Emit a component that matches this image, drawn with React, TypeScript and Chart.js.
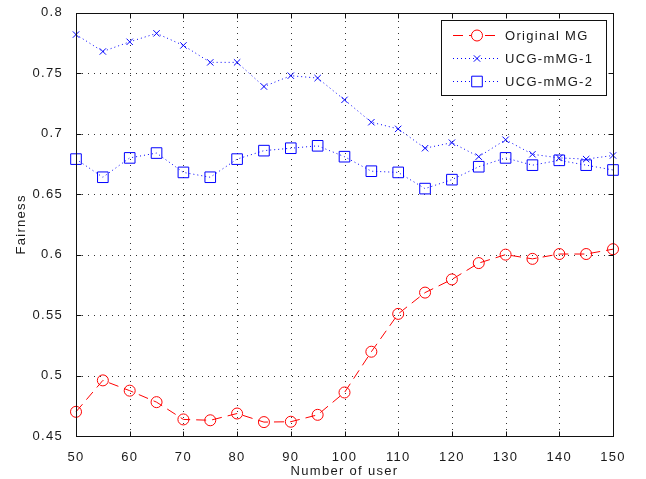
import React, { useEffect, useRef } from 'react';
import { Chart, registerables } from 'chart.js';

Chart.register(...registerables);

// ---- data ----
const xValues = [50, 55, 60, 65, 70, 75, 80, 85, 90, 95, 100, 105, 110, 115, 120, 125, 130, 135, 140, 145, 150];
const originalMG = [0.470, 0.496, 0.4875, 0.478, 0.4637, 0.463, 0.4686, 0.4615, 0.4618, 0.4675, 0.486, 0.5197, 0.551, 0.5686, 0.5795, 0.593, 0.600, 0.5965, 0.6005, 0.6005, 0.6045];
const ucgMMG1 = [0.782, 0.768, 0.776, 0.783, 0.773, 0.759, 0.759, 0.739, 0.748, 0.746, 0.728, 0.7095, 0.704, 0.688, 0.6926, 0.681, 0.695, 0.683, 0.680, 0.679, 0.682];
const ucgMMG2 = [0.679, 0.664, 0.680, 0.684, 0.668, 0.664, 0.679, 0.686, 0.688, 0.690, 0.681, 0.669, 0.668, 0.6546, 0.662, 0.6727, 0.680, 0.674, 0.678, 0.674, 0.670];
const seriesLabels = ['Original MG', 'UCG-mMG-1', 'UCG-mMG-2'];

const xTicks = [50, 60, 70, 80, 90, 100, 110, 120, 130, 140, 150];
const xTickLabels = ['50', '60', '70', '80', '90', '100', '110', '120', '130', '140', '150'];
const yTicks = [0.45, 0.5, 0.55, 0.6, 0.65, 0.7, 0.75, 0.8];
const yTickLabels = ['0.45', '0.5', '0.55', '0.6', '0.65', '0.7', '0.75', '0.8'];
const xTitle = 'Number of user';
const yTitle = 'Fairness';

const FONT = '"Liberation Sans", Arial, sans-serif';
const TEXT = '#1a1a1a';
const RED = '#ff0000';
const BLUE = '#0000ff';
const SPACING = '1.3px';

function toPoints(ys: number[]) {
  return xValues.map((x, i) => ({ x, y: ys[i] }));
}

const matlabPlugin = {
  id: 'matlabAxes',
  beforeDraw(chart: any) {
    const ctx = chart.ctx;
    if ('letterSpacing' in ctx) ctx.letterSpacing = SPACING;
  },
  beforeDatasetsDraw(chart: any) {
    const { ctx, chartArea: a, scales } = chart;
    ctx.save();
    ctx.strokeStyle = '#333';
    ctx.lineWidth = 1;
    ctx.setLineDash([1, 5]);
    const L = Math.round(a.left), R = Math.round(a.right), T = Math.round(a.top), B = Math.round(a.bottom);
    xTicks.forEach((v) => {
      const x = Math.round(scales.x.getPixelForValue(v)) + 0.5;
      if (x < L + 2 || x > R - 1) return;
      ctx.beginPath();
      ctx.moveTo(x, B);
      ctx.lineTo(x, T);
      ctx.stroke();
    });
    yTicks.forEach((v) => {
      const y = Math.round(scales.y.getPixelForValue(v)) + 0.5;
      if (y < T + 2 || y > B - 1) return;
      ctx.beginPath();
      ctx.moveTo(L, y);
      ctx.lineTo(R, y);
      ctx.stroke();
    });
    ctx.restore();
  },
  afterDatasetsDraw(chart: any) {
    const { ctx, chartArea: a, scales } = chart;
    const L = Math.round(a.left) + 0.5, R = Math.round(a.right) + 0.5, T = Math.round(a.top) + 0.5, B = Math.round(a.bottom) + 0.5;
    ctx.save();
    ctx.setLineDash([]);
    ctx.strokeStyle = '#111';
    ctx.lineWidth = 1;
    ctx.strokeRect(L, T, R - L, B - T);
    const tl = 5;
    ctx.beginPath();
    xTicks.forEach((v) => {
      const x = Math.round(scales.x.getPixelForValue(v)) + 0.5;
      ctx.moveTo(x, B); ctx.lineTo(x, B - tl);
      ctx.moveTo(x, T); ctx.lineTo(x, T + tl);
    });
    yTicks.forEach((v) => {
      const y = Math.round(scales.y.getPixelForValue(v)) + 0.5;
      ctx.moveTo(L, y); ctx.lineTo(L + tl, y);
      ctx.moveTo(R, y); ctx.lineTo(R - tl, y);
    });
    ctx.stroke();

    // legend
    const bx = 441.5, by = 20.5, bw = 165, bh = 75;
    ctx.fillStyle = '#ffffff';
    ctx.fillRect(bx, by, bw, bh);
    ctx.strokeStyle = '#111';
    ctx.strokeRect(bx, by, bw, bh);
    const rows = [35, 58, 81];
    const x0 = 453, x1 = 501, mx = 477;
    chart.data.datasets.forEach((ds: any, i: number) => {
      const y = rows[i] + 0.5;
      ctx.save();
      ctx.strokeStyle = ds.borderColor;
      ctx.lineWidth = 1;
      ctx.setLineDash(ds.borderDash || []);
      ctx.beginPath();
      ctx.moveTo(x0, y);
      ctx.lineTo(x1, y);
      ctx.stroke();
      ctx.setLineDash([]);
      ctx.strokeStyle = ds.pointBorderColor;
      ctx.fillStyle = '#fff';
      ctx.beginPath();
      if (ds.pointStyle === 'circle') {
        ctx.arc(mx, y, ds.pointRadius, 0, Math.PI * 2);
        ctx.fill();
        ctx.stroke();
      } else if (ds.pointStyle === 'crossRot') {
        const d = ds.pointRadius * Math.SQRT1_2;
        ctx.moveTo(mx - d, y - d); ctx.lineTo(mx + d, y + d);
        ctx.moveTo(mx + d, y - d); ctx.lineTo(mx - d, y + d);
        ctx.stroke();
      } else if (ds.pointStyle === 'rect') {
        const s = ds.pointRadius * Math.SQRT1_2;
        ctx.rect(mx - s, y - s, 2 * s, 2 * s);
        ctx.fill();
        ctx.stroke();
      }
      ctx.restore();
      ctx.fillStyle = TEXT;
      ctx.font = `13px ${FONT}`;
      ctx.textBaseline = 'middle';
      ctx.textAlign = 'left';
      ctx.fillText(ds.label, 505, rows[i] + 1);
    });
    ctx.restore();
  },
};

export default function App() {
  const ref = useRef<HTMLCanvasElement>(null);
  useEffect(() => {
    const canvas = ref.current;
    if (!canvas) return;
    const chart = new Chart(canvas, {
      type: 'line',
      data: {
        datasets: [
          {
            label: seriesLabels[0],
            data: toPoints(originalMG),
            borderColor: RED,
            borderWidth: 1,
            borderDash: [10, 6],
            pointStyle: 'circle',
            pointRadius: 5.5,
            pointBorderColor: RED,
            pointBackgroundColor: 'rgba(0,0,0,0)',
            pointBorderWidth: 1,
            tension: 0,
            clip: false,
          },
          {
            label: seriesLabels[1],
            data: toPoints(ucgMMG1),
            borderColor: BLUE,
            borderWidth: 1,
            borderDash: [1, 3],
            pointStyle: 'crossRot',
            pointRadius: 4.5,
            pointBorderColor: BLUE,
            pointBackgroundColor: 'rgba(0,0,0,0)',
            pointBorderWidth: 1,
            tension: 0,
            clip: false,
          },
          {
            label: seriesLabels[2],
            data: toPoints(ucgMMG2),
            borderColor: BLUE,
            borderWidth: 1,
            borderDash: [1, 3],
            pointStyle: 'rect',
            pointRadius: 7.5,
            pointBorderColor: BLUE,
            pointBackgroundColor: 'rgba(0,0,0,0)',
            pointBorderWidth: 1,
            tension: 0,
            clip: false,
          },
        ],
      } as any,
      options: {
        animation: false,
        responsive: false,
        devicePixelRatio: 1,
        layout: { padding: { left: 0, top: 12, right: 33, bottom: 0 } },
        plugins: { legend: { display: false }, tooltip: { enabled: false } },
        scales: {
          x: {
            type: 'linear',
            min: 50,
            max: 150,
            grid: { display: false },
            border: { display: false },
            afterBuildTicks: (s: any) => { s.ticks = xTicks.map((v) => ({ value: v })); },
            afterFit: (s: any) => { s.height = 43; },
            ticks: {
              padding: 6,
              color: TEXT,
              font: { family: FONT, size: 13 },
              maxRotation: 0,
              autoSkip: false,
              callback: (_v: any, i: number) => xTickLabels[i],
            },
            title: {
              display: true,
              text: xTitle,
              color: TEXT,
              font: { family: FONT, size: 13 },
              padding: { top: 0, bottom: 0 },
            },
          },
          y: {
            type: 'linear',
            min: 0.45,
            max: 0.8,
            grid: { display: false },
            border: { display: false },
            afterBuildTicks: (s: any) => { s.ticks = yTicks.map((v) => ({ value: v })); },
            afterFit: (s: any) => { s.width = 76; },
            ticks: {
              padding: 5,
              color: TEXT,
              font: { family: FONT, size: 13 },
              autoSkip: false,
              callback: (_v: any, i: number) => yTickLabels[i],
            },
            title: {
              display: true,
              text: yTitle,
              color: TEXT,
              font: { family: FONT, size: 13 },
              padding: { top: 14, bottom: 0 },
            },
          },
        },
      },
      plugins: [matlabPlugin],
    } as any);
    return () => chart.destroy();
  }, []);
  return (
    <div style={{ position: 'fixed', left: 0, top: 0, width: 646, height: 479, background: '#fff' }}>
      <canvas ref={ref} width={646} height={479} style={{ display: 'block', width: 646, height: 479 }} />
    </div>
  );
}
